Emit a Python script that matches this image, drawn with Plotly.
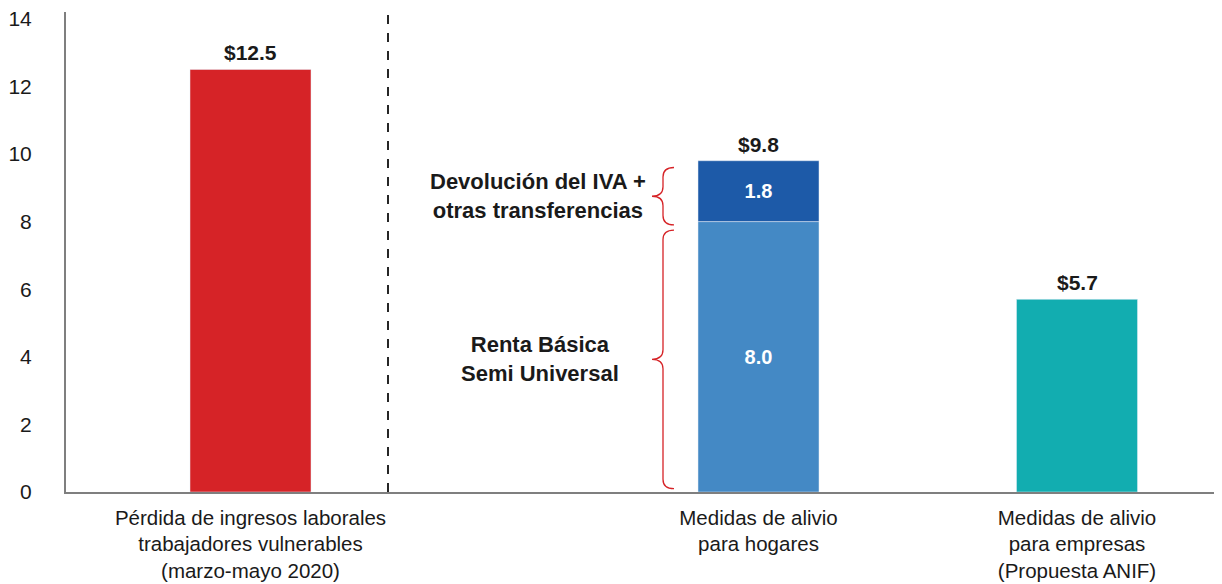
import plotly.graph_objects as go

# ---- data ----
categories = [
    "Pérdida de ingresos laborales<br>trabajadores vulnerables<br>(marzo-mayo 2020)",
    "Medidas de alivio<br>para hogares",
    "Medidas de alivio<br>para empresas<br>(Propuesta ANIF)",
]
perdida = [12.5]
renta_basica = [8.0]
devolucion_iva = [1.8]
empresas = [5.7]
totals = [12.5, 9.8, 5.7]
total_labels = ["$12.5", "$9.8", "$5.7"]
y_ticks = [0, 2, 4, 6, 8, 10, 12, 14]

# ---- layout constants (positions on a pixel-like numeric x axis) ----
POS = [184.5, 692.5, 1011.0]
BAR_W = 121
FONT = "Liberation Sans, Arial, sans-serif"
TXT = "#1a1a1a"

RED = "#D62327"
LBLUE = "#4489C5"
DBLUE = "#1D5AA8"
TEAL = "#12ADB0"

fig = go.Figure()
fig.add_trace(go.Bar(x=[POS[0]], y=perdida, width=BAR_W, marker_color=RED,
                     hoverinfo="skip", showlegend=False))
fig.add_trace(go.Bar(x=[POS[1]], y=renta_basica, width=BAR_W, marker_color=LBLUE,
                     text=[f"{v:.1f}" for v in renta_basica], textposition="inside",
                     insidetextanchor="middle",
                     textfont=dict(family=FONT, size=20, color="white", weight="bold"),
                     hoverinfo="skip", showlegend=False))
fig.add_trace(go.Bar(x=[POS[1]], y=devolucion_iva, base=renta_basica, width=BAR_W,
                     marker_color=DBLUE,
                     text=[f"{v:.1f}" for v in devolucion_iva], textposition="inside",
                     insidetextanchor="middle",
                     textfont=dict(family=FONT, size=20, color="white", weight="bold"),
                     hoverinfo="skip", showlegend=False))
fig.add_trace(go.Bar(x=[POS[2]], y=empresas, width=BAR_W, marker_color=TEAL,
                     hoverinfo="skip", showlegend=False))

# total labels above bars
for p, t, lab in zip(POS, totals, total_labels):
    fig.add_annotation(x=p, y=t, text=lab, showarrow=False, yanchor="bottom",
                       yshift=3, font=dict(family=FONT, size=21, color=TXT, weight="bold"))

# curly braces next to the stacked bar
def brace(x_end, x_v, x_tip, y_top, y_bot, d=0.28):
    y_mid = (y_top + y_bot) / 2
    return (f"M {x_end},{y_top} Q {x_v},{y_top} {x_v},{y_top - d} "
            f"L {x_v},{y_mid + d} Q {x_v},{y_mid} {x_tip},{y_mid} "
            f"Q {x_v},{y_mid} {x_v},{y_mid - d} "
            f"L {x_v},{y_bot + d} Q {x_v},{y_bot} {x_end},{y_bot}")

left = POS[1] - BAR_W / 2
x_end, x_v, x_tip = left - 24, left - 35, left - 46
seg_top = renta_basica[0] + devolucion_iva[0]
fig.add_shape(type="path", xref="x", yref="y",
              path=brace(x_end, x_v, x_tip, seg_top - 0.2, renta_basica[0] - 0.1),
              line=dict(color=RED, width=1.3))
fig.add_shape(type="path", xref="x", yref="y",
              path=brace(x_end, x_v, x_tip, renta_basica[0] - 0.25, 0.1),
              line=dict(color=RED, width=1.3))

fig.add_annotation(x=x_tip - 114, y=(seg_top - 0.2 + renta_basica[0] - 0.1) / 2,
                   text="Devolución del IVA +<br>otras transferencias", showarrow=False,
                   xanchor="center", yanchor="middle",
                   font=dict(family=FONT, size=22, color=TXT, weight="bold"))
fig.add_annotation(x=x_tip - 112, y=(renta_basica[0] - 0.25 + 0.1) / 2,
                   text="Renta Básica<br>Semi Universal", showarrow=False,
                   xanchor="center", yanchor="middle",
                   font=dict(family=FONT, size=22, color=TXT, weight="bold"))

# dashed separator
fig.add_shape(type="line", xref="x", yref="paper", x0=322, x1=322, y0=0, y1=1.005,
              line=dict(color="#262626", width=2, dash="dash"))

fig.update_layout(
    width=1214, height=576,
    margin=dict(l=58, r=0, t=4, b=92, autoexpand=False),
    plot_bgcolor="white", paper_bgcolor="white",
    barmode="overlay",
    font=dict(family=FONT, size=21, color=TXT),
)
fig.update_xaxes(range=[0, 1156], showgrid=False, zeroline=False, showline=True,
                 linecolor="#7f7f7f", linewidth=2, automargin=False,
                 ticklabeloverflow="allow",
                 tickmode="array", tickvals=POS, ticktext=categories,
                 ticks="", ticklabelstandoff=6,
                 tickfont=dict(family=FONT, size=20.5, color=TXT))
fig.update_yaxes(range=[0, 14.2], showgrid=False, zeroline=False, showline=True,
                 linecolor="#7f7f7f", linewidth=2, automargin=False,
                 ticklabeloverflow="allow",
                 tickmode="array", tickvals=y_ticks, ticks="",
                 ticklabelstandoff=28,
                 tickfont=dict(family=FONT, size=21, color=TXT))

fig.write_html("out.html")
